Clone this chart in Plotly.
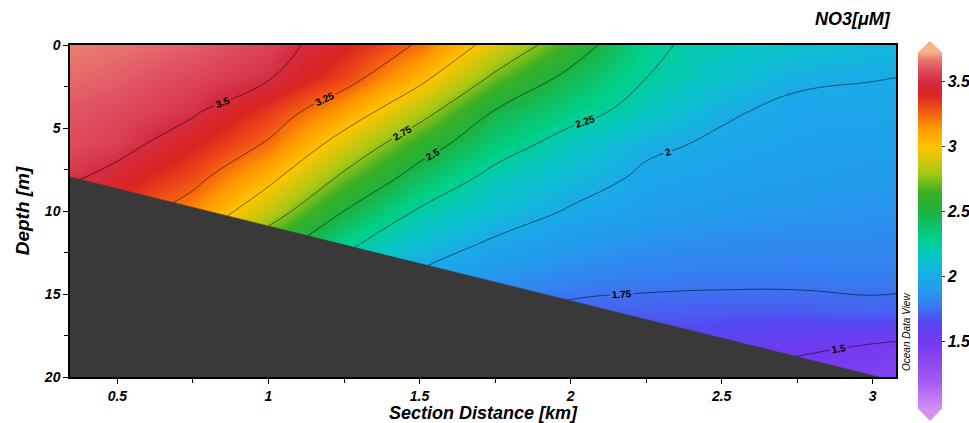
import plotly.graph_objects as go

# ---------------- data ----------------
distance_km = [0.3, 0.5, 0.75, 1.0, 1.25, 1.5, 1.75, 2.0, 2.25, 2.5, 2.75, 3.0, 3.1]
depth_m = [0, 2, 4, 6, 8, 10, 12, 14, 16, 18, 20]
no3_uM = [
    [3.68, 3.66, 3.62, 3.56, 3.42, 3.23, 2.92, 2.62, 2.29, 2.18, 2.13, 2.08, 2.06],
    [3.65, 3.62, 3.57, 3.51, 3.32, 3.05, 2.71, 2.44, 2.25, 2.13, 2.025, 2.004, 1.998],
    [3.61, 3.58, 3.52, 3.35, 3.12, 2.83, 2.49, 2.32, 2.18, 2.02, 1.965, 1.965, 1.96],
    [3.59, 3.55, 3.41, 3.23, 2.91, 2.60, 2.34, 2.17, 2.03, 1.975, 1.95, 1.935, 1.93],
    [3.54, 3.45, 3.30, 3.05, 2.71, 2.41, 2.19, 2.08, 1.97, 1.94, 1.92, 1.90, 1.895],
    [3.42, 3.34, 3.17, 2.86, 2.50, 2.23, 2.10, 1.985, 1.93, 1.90, 1.88, 1.86, 1.855],
    [3.30, 3.20, 2.97, 2.62, 2.29, 2.10, 1.97, 1.90, 1.85, 1.83, 1.82, 1.82, 1.815],
    [3.18, 3.05, 2.80, 2.45, 2.16, 1.97, 1.87, 1.81, 1.785, 1.78, 1.78, 1.785, 1.78],
    [3.05, 2.90, 2.65, 2.30, 2.03, 1.86, 1.77, 1.72, 1.71, 1.70, 1.70, 1.72, 1.715],
    [2.92, 2.78, 2.52, 2.18, 1.92, 1.76, 1.68, 1.64, 1.62, 1.58, 1.53, 1.50, 1.48],
    [2.80, 2.66, 2.42, 2.08, 1.82, 1.68, 1.60, 1.56, 1.53, 1.49, 1.45, 1.42, 1.40],
]

# seabed (bathymetry) line
bottom_x = [0.343, 3.02]
bottom_depth = [7.95, 20.0]

# contour levels
deep_labelled_levels = [1.5, 1.75]                          # lines lying in the deep part
upper_labelled_levels = [2.0, 2.25, 2.5, 2.75, 3.25, 3.5]   # lines crossing the upper part
upper_unlabelled_levels = [3.0]
SPLIT_ROW = 6   # index of 12 m: upper lines are labelled above it only

# colour bar ticks
cb_tickvals = [1.5, 2, 2.5, 3, 3.5]
cb_ticktext = ["1.5", "2", "2.5", "3", "3.5"]

# ---------------- style ----------------
CMIN, CMAX = 0.98, 3.73
stop_vals = [0.98, 1.2, 1.5, 1.65, 1.8, 1.9, 2.0, 2.15, 2.3, 2.5, 2.65, 2.8, 3.0,
             3.15, 3.28, 3.4, 3.5, 3.6, 3.67, 3.73]
stop_cols = ['#d48ef6', '#a458f2', '#7338f0', '#5548f2', '#3284f0', '#229cec', '#1aaae8',
             '#08c6c8', '#00d08a', '#1cb240', '#3cb024', '#aac814', '#ffc400',
             '#ff9600', '#f25414', '#da2420', '#d42c40', '#e05262', '#ea7a6e', '#f6b48c']
colorscale = [[(v - CMIN) / (CMAX - CMIN), c] for v, c in zip(stop_vals, stop_cols)]

FONT = "Liberation Sans, Arial, sans-serif"
W, H = 969, 423
L, R, T, B = 70, 73, 45, 46
PW, PH = W - L - R, H - T - B
LINE = dict(color='rgba(0,0,0,0.75)', width=0.7, smoothing=1.3)
LABELFONT = dict(size=10, color='black', family=FONT, weight='bold')


def px_x(p):
    return (p - L) / PW


def px_y(p):
    return (H - B - p) / PH


def line_trace(depths, values, start, end, labels):
    return go.Contour(
        x=distance_km, y=depths, z=values,
        autocontour=False, showscale=False,
        contours=dict(coloring='none', start=start, end=end, size=0.25,
                      showlabels=labels, labelfont=LABELFONT),
        line=LINE, hoverinfo='skip',
    )


fig = go.Figure()

# colour field
fig.add_trace(go.Contour(
    x=distance_km, y=depth_m, z=no3_uM,
    colorscale=colorscale, zmin=CMIN, zmax=CMAX,
    autocontour=False,
    contours=dict(coloring='heatmap', start=1.5, end=3.5, size=0.25, showlines=False),
    line=dict(width=0),
    hoverinfo='skip',
    colorbar=dict(
        thickness=24, thicknessmode='pixels',
        len=357, lenmode='pixels',
        x=px_x(918), xanchor='left', y=px_y(230.5), yanchor='middle',
        xpad=0, ypad=0, outlinewidth=0,
        tickvals=cb_tickvals, ticktext=cb_ticktext,
        ticks='outside', ticklen=3, tickcolor='#333',
        tickfont=dict(size=16, family=FONT, color='black', weight='bold', style='italic'),
    ),
))

upper_d, upper_z = depth_m[:SPLIT_ROW + 1], no3_uM[:SPLIT_ROW + 1]
lower_d, lower_z = depth_m[SPLIT_ROW:], no3_uM[SPLIT_ROW:]

# upper part of the sloping isolines (labelled), one trace per level
for lv in upper_labelled_levels + upper_unlabelled_levels:
    fig.add_trace(line_trace(upper_d, upper_z, lv, lv, lv in upper_labelled_levels))
# their continuation below 12 m (hidden mostly by the seabed)
fig.add_trace(line_trace(lower_d, lower_z, min(upper_labelled_levels),
                         max(upper_labelled_levels), False))
# deep isolines, full depth range
for lv in deep_labelled_levels:
    fig.add_trace(line_trace(depth_m, no3_uM, lv, lv, True))

# seabed polygon
fig.add_trace(go.Scatter(
    x=[bottom_x[0], bottom_x[1], bottom_x[0]],
    y=[bottom_depth[0], bottom_depth[1], bottom_depth[1]],
    mode='lines', fill='toself', fillcolor='#393939',
    line=dict(color='#393939', width=0.5),
    hoverinfo='skip', showlegend=False,
))

axis_common = dict(
    showline=True, linecolor='black', linewidth=1.5, mirror=True,
    showgrid=False, zeroline=False,
    ticks='outside', ticklen=5, tickwidth=1, tickcolor='black',
    tickfont=dict(size=14, family=FONT, color='black', weight='bold', style='italic'),
)

fig.update_xaxes(
    range=[0.343, 3.077], tick0=0, dtick=0.5,
    minor=dict(dtick=0.25, ticks='outside', ticklen=4, tickcolor='black'),
    title=dict(text='Section Distance [km]', standoff=3,
               font=dict(size=18, family=FONT, color='black', weight='bold', style='italic')),
    **axis_common,
)
fig.update_yaxes(
    range=[20, 0], tick0=0, dtick=5,
    minor=dict(dtick=2.5, ticks='outside', ticklen=4, tickcolor='black'),
    title=dict(text='Depth [m]', standoff=9,
               font=dict(size=19, family=FONT, color='black', weight='bold', style='italic')),
    **axis_common,
)

# colour bar end arrows
xl, xr, xm = px_x(918), px_x(942), px_x(930)
top_base, top_tip = px_y(52.5), px_y(41)
bot_base, bot_tip = px_y(408.5), px_y(421)
fig.add_shape(type='path', xref='paper', yref='paper',
              path=f'M {xl},{top_base} L {xm},{top_tip} L {xr},{top_base} Z',
              fillcolor=stop_cols[-1], line=dict(width=0))
fig.add_shape(type='path', xref='paper', yref='paper',
              path=f'M {xl},{bot_base} L {xm},{bot_tip} L {xr},{bot_base} Z',
              fillcolor=stop_cols[0], line=dict(width=0))

fig.add_annotation(text='NO3[μM]', xref='paper', yref='paper',
                   x=px_x(893), y=px_y(19), xanchor='right', yanchor='middle',
                   showarrow=False,
                   font=dict(size=18, family=FONT, color='black', weight='bold', style='italic'))
fig.add_annotation(text='Ocean Data View', xref='paper', yref='paper',
                   x=px_x(906), y=px_y(332), xanchor='center', yanchor='middle',
                   textangle=-90, showarrow=False,
                   font=dict(size=10, family=FONT, color='black', style='italic'))

fig.update_layout(
    width=W, height=H,
    margin=dict(l=L, r=R, t=T, b=B, autoexpand=False),
    paper_bgcolor='white', plot_bgcolor='white',
    font=dict(family=FONT, color='black'),
    showlegend=False,
)

fig.write_html("out.html", config={'displayModeBar': False},
               post_script="document.body.style.margin='0px';")
